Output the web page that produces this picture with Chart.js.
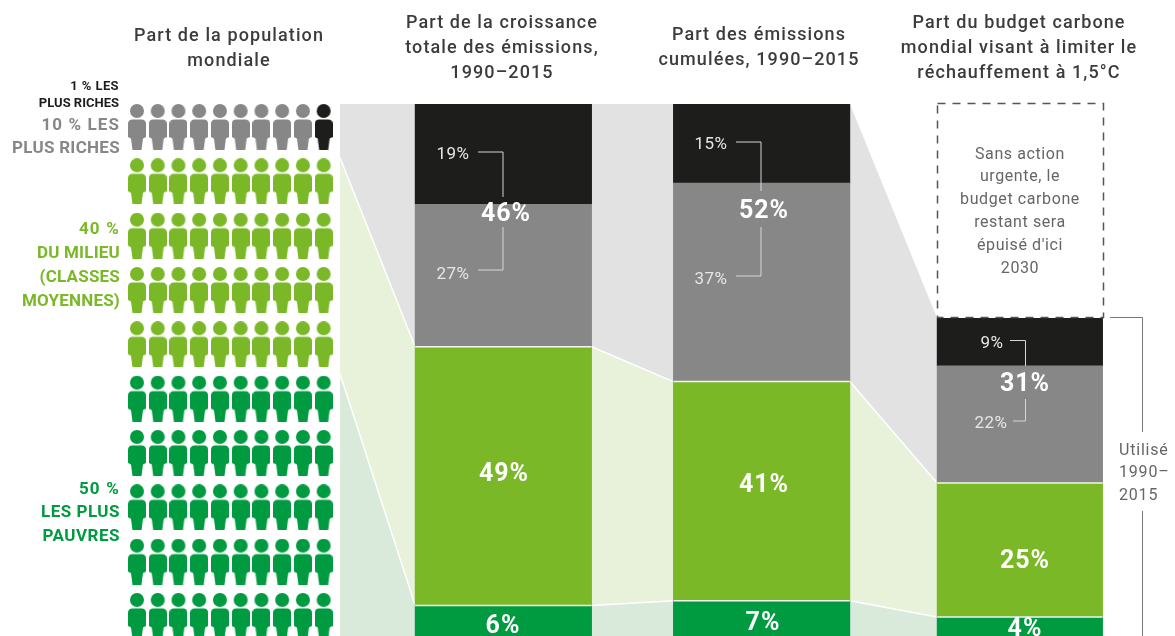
<!DOCTYPE html>
<html lang="fr">
<head>
<meta charset="utf-8">
<title>Part des émissions</title>
<script src="https://cdn.jsdelivr.net/npm/chart.js@4"></script>
<style>
    html, body { margin: 0; padding: 0; background: #fff; overflow: hidden; }
    canvas { display: block; }
</style>
</head>
<body>
<canvas id="carbonChart" width="1175" height="636"></canvas>
<script>
// order: population, croissance, cumulees, budget
var categories = ['Population', 'Croissance', 'Cumulées', 'Budget'];
var richest1 = [1, 19, 15, 9];
var richest10 = [9.2, 27, 37.6, 22.2];
var middle40 = [40.9, 49, 41.5, 25.4];
var poorest50 = [49.7, 5.8, 6.7, 3.6];

var peopleCounts = { grey: 9, black: 1, middle: 40, poorest: 50 };

var columnTitles = [
    ['Part de la population', 'mondiale'],
    ['Part de la croissance', 'totale des émissions,', '1990–2015'],
    ['Part des émissions', 'cumulées, 1990–2015'],
    ['Part du budget carbone', 'mondial visant à limiter le', 'réchauffement à 1,5°C']
];
var budgetNote = ['Sans action', 'urgente, le', 'budget carbone', 'restant sera', 'épuisé d\'ici', '2030'];
var usedNote = ['Utilisé', '1990–', '2015'];

var BLACK = '#1d1d1b', GREY = '#878787', MID = '#7ab828', DARK = '#009a40';
var TEXT = '#3c3c3b';
var FONT = 'Roboto, sans-serif';

function firstThree(values) {
    return values.map(function (v, i) { return i < 3 ? v : null; });
}
function lastOnly(values) {
    return values.map(function (v, i) { return i === 3 ? v : null; });
}
function barSet(values, color, wide) {
    return {
        data: wide ? lastOnly(values) : firstThree(values),
        backgroundColor: values.map(function (v, i) { return i === 0 ? 'transparent' : color; }),
        stack: wide ? 'budget' : 'main',
        grouped: false,
        barPercentage: 1,
        categoryPercentage: 1,
        maxBarThickness: wide ? 165.5 : 176.5,
        order: 2
    };
}

// little person icon, one canvas per colour
function personIcon(color) {
    var c = document.createElement('canvas');
    c.width = 18;
    c.height = 46;
    var g = c.getContext('2d');
    g.fillStyle = color;
    g.beginPath();
    g.arc(9, 7, 7, 0, Math.PI * 2);
    g.fill();
    g.beginPath();
    g.moveTo(4.5, 15.5);
    g.lineTo(13.5, 15.5);
    g.quadraticCurveTo(18, 15.5, 18, 20);
    g.lineTo(18, 33);
    g.lineTo(15, 34.5);
    g.lineTo(13.5, 46);
    g.lineTo(4.5, 46);
    g.lineTo(3, 34.5);
    g.lineTo(0, 33);
    g.lineTo(0, 20);
    g.quadraticCurveTo(0, 15.5, 4.5, 15.5);
    g.fill();
    return c;
}

// fills the 10 x 10 grid left to right, top to bottom
var gridCursor = 0;
function nextPeople(count) {
    var pts = [];
    for (var i = 0; i < count; i++) {
        pts.push({ x: gridCursor % 10, y: Math.floor(gridCursor / 10) });
        gridCursor++;
    }
    return pts;
}
function peopleSet(count, color) {
    return {
        type: 'scatter',
        data: nextPeople(count),
        xAxisID: 'xGrid',
        yAxisID: 'yGrid',
        pointStyle: personIcon(color),
        pointRadius: 9,
        clip: false,
        order: 1
    };
}

function drawText(ctx, str, x, y, font, color, align, spacing) {
    ctx.font = font;
    ctx.fillStyle = color;
    ctx.textAlign = align || 'center';
    ctx.textBaseline = 'middle';
    ctx.letterSpacing = (spacing || 0) + 'px';
    ctx.fillText(str, x, y + 1.5);
    ctx.letterSpacing = '0px';
}

function columnEdges(chart, cat) {
    var y = chart.scales.y;
    var bar = cat === 3 ? chart.getDatasetMeta(4).data[3] : chart.getDatasetMeta(0).data[cat];
    var left = cat === 0 ? 340 : bar.x - bar.width / 2;
    var right = cat === 0 ? 340 : bar.x + bar.width / 2;
    return {
        left: left,
        right: right,
        top: y.getPixelForValue(poorest50[cat] + middle40[cat] + richest10[cat] + richest1[cat]),
        upper: y.getPixelForValue(poorest50[cat] + middle40[cat]),
        lower: y.getPixelForValue(poorest50[cat]),
        bottom: y.getPixelForValue(0)
    };
}

var bandsPlugin = {
    id: 'bands',
    beforeDatasetsDraw: function (chart) {
        var ctx = chart.ctx;
        function band(a, b, from, to, color) {
            ctx.fillStyle = color;
            ctx.beginPath();
            ctx.moveTo(a.right, a[from]);
            ctx.lineTo(b.left, b[from]);
            ctx.lineTo(b.left, b[to]);
            ctx.lineTo(a.right, a[to]);
            ctx.closePath();
            ctx.fill();
        }
        function edge(a, b, key) {
            ctx.strokeStyle = '#fff';
            ctx.lineWidth = 1.5;
            ctx.beginPath();
            ctx.moveTo(a.right, a[key]);
            ctx.lineTo(b.left, b[key]);
            ctx.stroke();
        }
        ctx.save();
        for (var c = 0; c < 3; c++) {
            var a = columnEdges(chart, c), b = columnEdges(chart, c + 1);
            band(a, b, 'top', 'upper', '#e2e2e2');
            band(a, b, 'upper', 'lower', '#e8f1da');
            band(a, b, 'lower', 'bottom', '#d9eadb');
            edge(a, b, 'upper');
            edge(a, b, 'lower');
        }
        ctx.restore();
    },
    afterDatasetsDraw: function (chart) {
        var ctx = chart.ctx;
        ctx.save();
        ctx.strokeStyle = '#f4f4f4';
        ctx.lineWidth = 1.5;
        for (var c = 1; c < 4; c++) {
            var e = columnEdges(chart, c);
            ctx.beginPath();
            ctx.moveTo(e.left, e.upper);
            ctx.lineTo(e.right, e.upper);
            ctx.moveTo(e.left, e.lower);
            ctx.lineTo(e.right, e.lower);
            ctx.stroke();
        }
        ctx.restore();
    }
};

var labelsPlugin = {
    id: 'labels',
    afterDraw: function (chart) {
        var ctx = chart.ctx;
        ctx.save();

        // column titles
        var titleX = [229, 502, 759, 1019];
        var titleY = [35, 22, 34, 22];
        columnTitles.forEach(function (lines, i) {
            lines.forEach(function (line, j) {
                drawText(ctx, line, titleX[i], titleY[i] + j * 25, '500 18px ' + FONT, TEXT, 'center', 1.1);
            });
        });

        // group labels left of the people
        var bold = function (size) { return '700 ' + size + 'px ' + FONT; };
        drawText(ctx, '1 % LES', 119, 85, bold(13), BLACK, 'right', 0.4);
        drawText(ctx, 'PLUS RICHES', 119, 102, bold(13), BLACK, 'right', 0);
        drawText(ctx, '10 % LES', 120, 124, bold(17), GREY, 'right', 1.1);
        drawText(ctx, 'PLUS RICHES', 120, 147, bold(17), GREY, 'right', 0.3);
        ['40 %', 'DU MILIEU', '(CLASSES', 'MOYENNES)'].forEach(function (t, i) {
            drawText(ctx, t, 120, 228 + i * 24, bold(17), MID, 'right', i === 0 ? 1.2 : 0.2);
        });
        ['50 %', 'LES PLUS', 'PAUVRES'].forEach(function (t, i) {
            drawText(ctx, t, 120, 488 + i * 23.5, bold(17), DARK, 'right', i === 0 ? 1.2 : 0.5);
        });

        // large values
        var big = [['46%', 506, 213], ['52%', 764, 210], ['49%', 504, 473], ['41%', 764, 484], ['6%', 503, 625],
            ['7%', 763, 622], ['31%', 1025, 383], ['25%', 1025, 560], ['4%', 1025, 628]];
        big.forEach(function (b) {
            drawText(ctx, b[0], b[1], b[2], bold(25), '#fff', 'center', 1);
        });

        // small values and their connectors
        var small = [['19%', 453, 153], ['27%', 453, 273], ['15%', 711, 143], ['37%', 711, 278], ['9%', 992, 342], ['22%', 991, 422]];
        small.forEach(function (s) {
            drawText(ctx, s[0], s[1], s[2], '400 17px ' + FONT, '#e6e6e6', 'center', 0.5);
        });
        var links = [
            [[478, 152], [503, 152], [503, 197]],
            [[503, 227], [503, 270], [478, 270]],
            [[736, 142], [761, 142], [761, 191]],
            [[761, 227], [761, 276], [736, 276]],
            [[1010, 340.5], [1025.5, 340.5], [1025.5, 366]],
            [[1025.5, 399], [1025.5, 421], [1013, 421]]
        ];
        ctx.strokeStyle = '#d6d6d6';
        ctx.lineWidth = 1;
        links.forEach(function (l) {
            ctx.beginPath();
            ctx.moveTo(l[0][0], l[0][1]);
            ctx.lineTo(l[1][0], l[1][1]);
            ctx.lineTo(l[2][0], l[2][1]);
            ctx.stroke();
        });

        // remaining budget box
        ctx.strokeStyle = '#555';
        ctx.lineWidth = 1.5;
        ctx.setLineDash([8, 7]);
        ctx.strokeRect(937.5, 103.5, 166, 214);
        ctx.setLineDash([]);
        budgetNote.forEach(function (t, i) {
            drawText(ctx, t, 1020, 153 + i * 22.9, '400 16px ' + FONT, '#666', 'center', 0.6);
        });

        // bracket
        ctx.strokeStyle = '#777';
        ctx.lineWidth = 1;
        ctx.beginPath();
        ctx.moveTo(1110, 317.5);
        ctx.lineTo(1142.5, 317.5);
        ctx.lineTo(1142.5, 432);
        ctx.moveTo(1142.5, 511);
        ctx.lineTo(1142.5, 636);
        ctx.stroke();
        usedNote.forEach(function (t, i) {
            drawText(ctx, t, 1119, 449 + i * 22.5, '400 16px ' + FONT, '#666', 'left', 0.8);
        });

        ctx.restore();
    }
};

var ctx = document.getElementById('carbonChart').getContext('2d');
var carbonChart = new Chart(ctx, {
    type: 'bar',
    data: {
        labels: categories,
        datasets: [
            barSet(poorest50, DARK, false),
            barSet(middle40, MID, false),
            barSet(richest10, GREY, false),
            barSet(richest1, BLACK, false),
            barSet(poorest50, DARK, true),
            barSet(middle40, MID, true),
            barSet(richest10, GREY, true),
            barSet(richest1, BLACK, true),
            peopleSet(peopleCounts.grey, GREY),
            peopleSet(peopleCounts.black, BLACK),
            peopleSet(peopleCounts.middle, MID),
            peopleSet(peopleCounts.poorest, DARK)
        ]
    },
    options: {
        responsive: false,
        animation: false,
        layout: { autoPadding: false, padding: { left: 116, right: 26, top: 104, bottom: 0 } },
        plugins: { legend: { display: false }, tooltip: { enabled: false } },
        scales: {
            x: { display: false, stacked: true },
            y: { display: false, stacked: true, min: 0, max: 100.8 },
            xGrid: { display: false, type: 'linear', offset: false, min: -1.01, max: 48.79 },
            yGrid: { display: false, type: 'linear', reverse: true, offset: false, min: -0.423, max: 9.37 }
        }
    },
    plugins: [bandsPlugin, labelsPlugin]
});
</script>
</body>
</html>
